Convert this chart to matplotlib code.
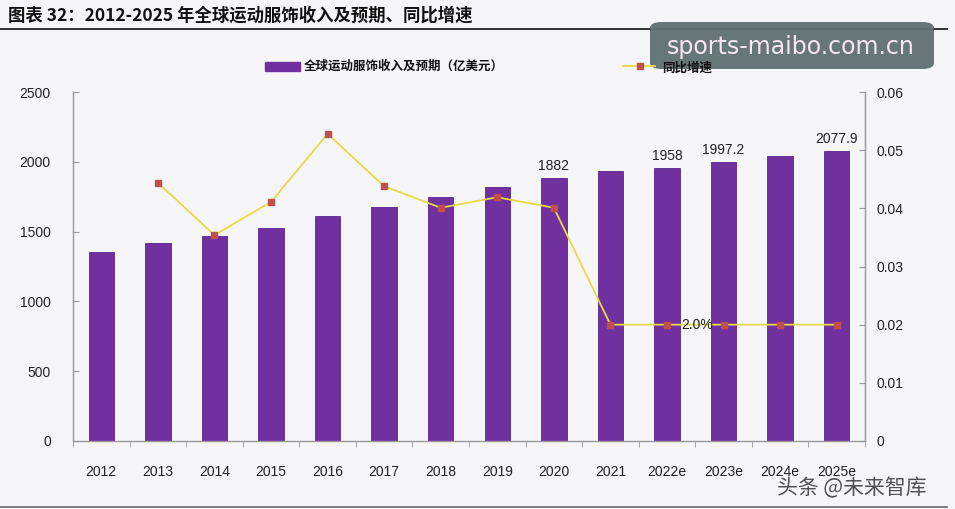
import matplotlib
matplotlib.use("Agg")
import matplotlib.pyplot as plt
import numpy as np
from matplotlib.patches import FancyBboxPatch
from matplotlib.lines import Line2D

plt.rcParams['font.family'] = ['Liberation Sans', 'Noto Sans CJK SC', 'DejaVu Sans']

years = ['2012', '2013', '2014', '2015', '2016', '2017', '2018', '2019',
         '2020', '2021', '2022e', '2023e', '2024e', '2025e']
revenue = [1355, 1418, 1468, 1526, 1612, 1676, 1748, 1819,
           1882, 1934, 1958, 1997.2, 2041, 2077.9]
growth = [np.nan, 0.0444, 0.0354, 0.0411, 0.0528, 0.0438, 0.0401, 0.0419,
          0.0401, 0.020, 0.020, 0.020, 0.020, 0.020]
bar_labels = {8: '1882', 10: '1958', 11: '1997.2', 13: '2077.9'}
pct_label = (10, '2.0%')

W, H = 955, 509
fig = plt.figure(figsize=(W/100, H/100), dpi=100)
fig.patch.set_facecolor('#f6f6f9')

L, R, T, B = 73, 865, 92, 441
ax = fig.add_axes([L/W, 1-B/H, (R-L)/W, (B-T)/H])
ax.set_facecolor('#f6f6f9')
x = np.arange(len(years))
purple = '#7030a0'
ax.bar(x, revenue, width=0.45, color=purple, edgecolor='#5a2590', linewidth=0.6, zorder=2)
ax.set_xlim(-0.5, len(years)-0.5)
ax.set_ylim(0, 2500)
ax.set_yticks(np.arange(0, 2501, 500))
ax.set_xticks(x)
ax.set_xticklabels(years, fontsize=10, color='#222222')
ax.set_xticks(np.arange(-0.5, len(years), 1), minor=True)
ax.tick_params(axis='x', which='major', length=0, pad=17)
ax.tick_params(axis='x', which='minor', length=4, color='#999999', direction='out')
ax.tick_params(axis='y', labelsize=10, labelcolor='#222222', length=4, color='#999999',
               direction='in', pad=16)
ax.spines['top'].set_visible(False)
for s in ['left', 'bottom', 'right']:
    ax.spines[s].set_color('#999999')
    ax.spines[s].set_linewidth(1.0)

for i, t in bar_labels.items():
    ax.text(x[i], revenue[i] + 35, t, ha='center', va='bottom', fontsize=10, color='#222222')

ax2 = ax.twinx()
ax2.set_ylim(0, 0.06)
ax2.set_yticks(np.arange(0, 0.061, 0.01))
ax2.set_yticklabels(['0', '0.01', '0.02', '0.03', '0.04', '0.05', '0.06'])
ax2.plot(x, growth, color='#e6da48', linewidth=1.3, marker='s', markersize=4.5,
         markerfacecolor='#c0504d', markeredgecolor='#c0504d', zorder=3)
ax2.tick_params(axis='y', labelsize=10, labelcolor='#222222', length=4, color='#999999',
                direction='in', pad=8)
for s in ['top', 'left', 'bottom']:
    ax2.spines[s].set_visible(False)
ax2.spines['right'].set_color('#999999')
i, t = pct_label
ax2.text(x[i] + 0.25, growth[i], t, ha='left', va='center', fontsize=10, color='#222222')

# watermark box
fig.patches.append(FancyBboxPatch((650/W, 1-69/H), 284/W, 47/H,
                                  boxstyle='round,pad=0,rounding_size=0.012',
                                  transform=fig.transFigure, facecolor='#5f7070',
                                  edgecolor='none', alpha=0.95, zorder=10))
fig.text(791/W, 1-47/H, 'sports-maibo.com.cn', fontsize=17, color='#f3e8f3',
         ha='center', va='center', zorder=11, family=['DejaVu Sans'])

# legend
fig.patches.append(plt.Rectangle((265/W, 1-71/H), 35/W, 9/H, transform=fig.transFigure,
                                 color=purple))
fig.text(304/W, 1-66/H, '全球运动服饰收入及预期（亿美元）', fontsize=9, fontweight='bold',
         va='center', ha='left', color='#111111', family=['Noto Sans CJK SC', 'DejaVu Sans'])
fig.add_artist(Line2D([623/W, 655/W], [1-66/H, 1-66/H], color='#e6da48', linewidth=1.3,
                      zorder=12))
fig.add_artist(Line2D([640/W], [1-66/H], marker='s', markersize=4.5, color='#c0504d',
                      zorder=12))
fig.text(662/W, 1-68/H, '同比增速', fontsize=9, fontweight='bold', va='center', ha='left',
         color='#111111', zorder=12, family=['Noto Sans CJK SC', 'DejaVu Sans'])

# title
fig.text(8/W, 1-16/H, '图表 32：2012-2025 年全球运动服饰收入及预期、同比增速', fontsize=12.5,
         fontweight='bold', va='center', ha='left', color='#111111',
         family=['Noto Sans CJK SC', 'DejaVu Sans'])
fig.add_artist(Line2D([0, 947/W], [1-29/H, 1-29/H], color='#222222', linewidth=1.3))
fig.add_artist(Line2D([0, 947/W], [1-507/H, 1-507/H], color='#666666', linewidth=1.2))

fig.text(852/W, 1-488/H, '头条 @未来智库', fontsize=15, color='#333333', alpha=0.85,
         ha='center', va='center', zorder=11, family=['Noto Sans CJK SC', 'DejaVu Sans'])

fig.savefig('out.png', dpi=100, facecolor=fig.get_facecolor())
